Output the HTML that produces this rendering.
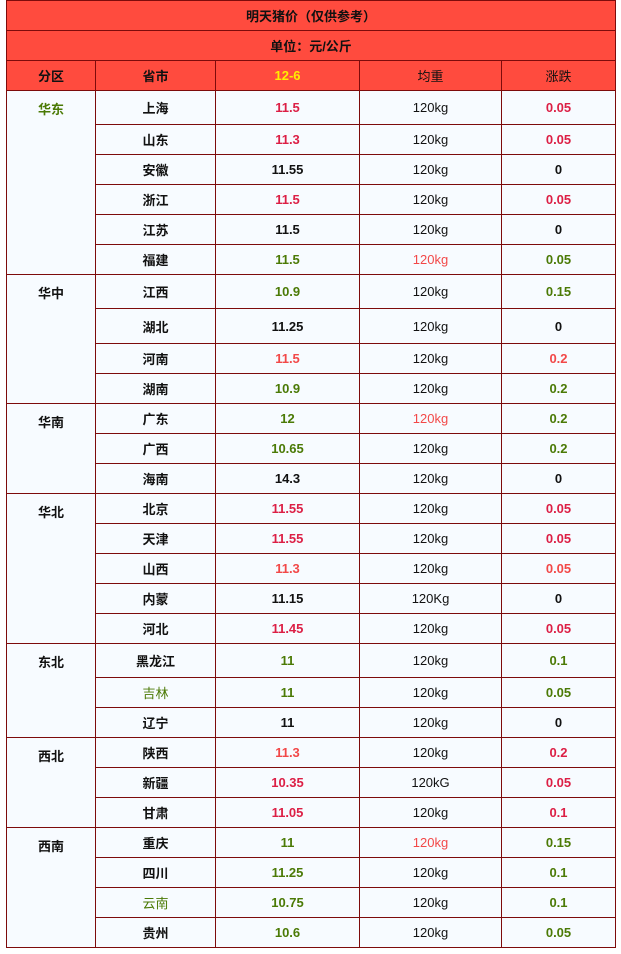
<!DOCTYPE html>
<html><head><meta charset="utf-8"><style>
body{margin:0;background:#fff;width:621px;height:954px;overflow:hidden;font-family:"Liberation Sans","Noto Sans CJK SC",sans-serif;}
table{position:absolute;left:6px;top:0;border-collapse:collapse;width:609px;table-layout:fixed;}
td{border:1px solid #7d0b0b;text-align:center;padding:0;font-size:13px;font-weight:bold;color:#111;background:#f7fbff;height:29px;}
tr.h td{background:#ff4b3e;}
td.g{vertical-align:top;padding-top:8px;}
td.w{font-weight:normal;}
.r{color:#dc1f45}.l{color:#f24848}.gr{color:#4b7a06}.y{color:#ffee00}
</style></head><body>
<table>
<colgroup><col style="width:89px"><col style="width:120px"><col style="width:144px"><col style="width:142px"><col style="width:114px"></colgroup>
<tr class="h"><td colspan="5" style="height:29px">明天猪价（仅供参考）</td></tr>
<tr class="h"><td colspan="5" style="height:29px">单位：元/公斤</td></tr>
<tr class="h"><td>分区</td><td>省市</td><td class="y">12-6</td><td class="w">均重</td><td class="w">涨跌</td></tr>
<tr style="height:34px"><td class="g gr" rowspan="6">华东</td><td>上海</td><td class="r">11.5</td><td class="w">120kg</td><td class="r">0.05</td></tr>
<tr><td>山东</td><td class="r">11.3</td><td class="w">120kg</td><td class="r">0.05</td></tr>
<tr><td>安徽</td><td>11.55</td><td class="w">120kg</td><td>0</td></tr>
<tr><td>浙江</td><td class="r">11.5</td><td class="w">120kg</td><td class="r">0.05</td></tr>
<tr><td>江苏</td><td>11.5</td><td class="w">120kg</td><td>0</td></tr>
<tr><td>福建</td><td class="gr">11.5</td><td class="w l">120kg</td><td class="gr">0.05</td></tr>
<tr style="height:34px"><td class="g" rowspan="4">华中</td><td>江西</td><td class="gr">10.9</td><td class="w">120kg</td><td class="gr">0.15</td></tr>
<tr style="height:35px"><td>湖北</td><td>11.25</td><td class="w">120kg</td><td>0</td></tr>
<tr><td>河南</td><td class="l">11.5</td><td class="w">120kg</td><td class="l">0.2</td></tr>
<tr><td>湖南</td><td class="gr">10.9</td><td class="w">120kg</td><td class="gr">0.2</td></tr>
<tr><td class="g" rowspan="3">华南</td><td>广东</td><td class="gr">12</td><td class="w l">120kg</td><td class="gr">0.2</td></tr>
<tr><td>广西</td><td class="gr">10.65</td><td class="w">120kg</td><td class="gr">0.2</td></tr>
<tr><td>海南</td><td>14.3</td><td class="w">120kg</td><td>0</td></tr>
<tr><td class="g" rowspan="5">华北</td><td>北京</td><td class="r">11.55</td><td class="w">120kg</td><td class="r">0.05</td></tr>
<tr><td>天津</td><td class="r">11.55</td><td class="w">120kg</td><td class="r">0.05</td></tr>
<tr><td>山西</td><td class="l">11.3</td><td class="w">120kg</td><td class="l">0.05</td></tr>
<tr><td>内蒙</td><td>11.15</td><td class="w">120Kg</td><td>0</td></tr>
<tr><td>河北</td><td class="r">11.45</td><td class="w">120kg</td><td class="r">0.05</td></tr>
<tr style="height:34px"><td class="g" rowspan="3">东北</td><td>黑龙江</td><td class="gr">11</td><td class="w">120kg</td><td class="gr">0.1</td></tr>
<tr><td class="w gr">吉林</td><td class="gr">11</td><td class="w">120kg</td><td class="gr">0.05</td></tr>
<tr><td>辽宁</td><td>11</td><td class="w">120kg</td><td>0</td></tr>
<tr><td class="g" rowspan="3">西北</td><td>陕西</td><td class="l">11.3</td><td class="w">120kg</td><td class="r">0.2</td></tr>
<tr><td>新疆</td><td class="r">10.35</td><td class="w">120kG</td><td class="r">0.05</td></tr>
<tr><td>甘肃</td><td class="r">11.05</td><td class="w">120kg</td><td class="r">0.1</td></tr>
<tr><td class="g" rowspan="4">西南</td><td>重庆</td><td class="gr">11</td><td class="w l">120kg</td><td class="gr">0.15</td></tr>
<tr><td>四川</td><td class="gr">11.25</td><td class="w">120kg</td><td class="gr">0.1</td></tr>
<tr><td class="w gr">云南</td><td class="gr">10.75</td><td class="w">120kg</td><td class="gr">0.1</td></tr>
<tr><td>贵州</td><td class="gr">10.6</td><td class="w">120kg</td><td class="gr">0.05</td></tr>
</table>
</body></html>
